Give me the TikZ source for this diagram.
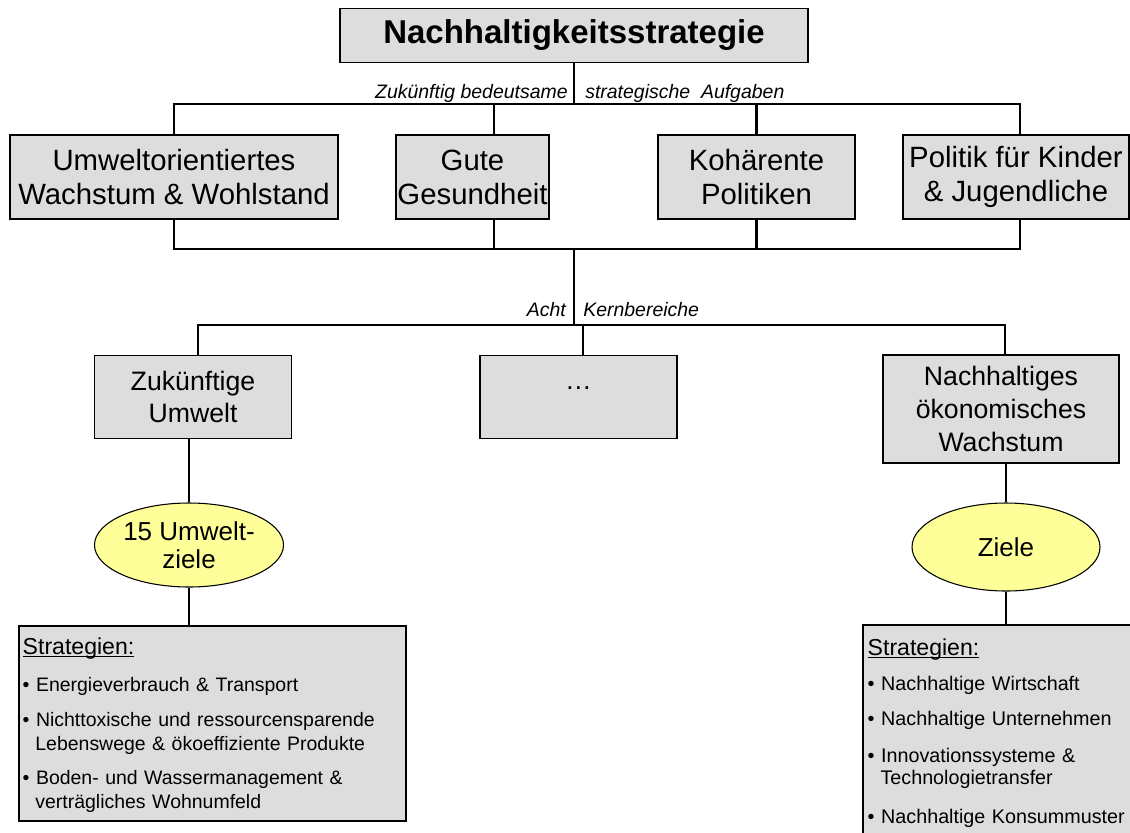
\documentclass[tikz,border=0pt]{standalone}
\usepackage{fontspec}
\setmainfont{Liberation Sans}
\usetikzlibrary{shapes.geometric}
\definecolor{boxgray}{HTML}{DDDDDD}
\definecolor{goalyellow}{HTML}{FFFF99}
\newcommand\myul[1]{\setbox0\hbox{#1}\rlap{\rule[-1.8pt]{\wd0}{0.9pt}}\box0}
\begin{document}
\begin{tikzpicture}[x=0.75pt,y=-0.75pt,
  box/.style={draw=black, line width=0.8pt, fill=boxgray, inner sep=0pt, align=center},
  goal/.style={ellipse, draw=black, line width=0.8pt, fill=goalyellow, inner sep=0pt, align=center},
  conn/.style={draw=black, line width=1.9pt},
  lbl/.style={font=\fontsize{14.6}{17}\selectfont\itshape, inner sep=0pt},
  rowtwo/.style={box, font=\fontsize{22}{25.5}\selectfont, minimum height=63pt},
  rowthree/.style={box, font=\fontsize{20}{24.5}\selectfont},
  goaltext/.style={goal, font=\fontsize{19.5}{21}\selectfont},
  stxt/.style={inner sep=0pt, align=left, anchor=north west}]
\useasboundingbox (0,0) rectangle (1130,832);
\clip (0,0) rectangle (1130,832);

% nodes
\node[box, font=\fontsize{24.75}{28}\selectfont\bfseries, minimum width=351pt, minimum height=40.5pt] (top) at (574,35.5) {Nachhaltigkeitsstrategie};

\node[rowtwo, minimum width=246pt] (r1) at (174,177) {Umweltorientiertes\\Wachstum \& Wohlstand};
\node[rowtwo, minimum width=114.75pt] (r2) at (472.5,177) {Gute\\Gesundheit};
\node[rowtwo, minimum width=147.75pt] (r3) at (756.5,177) {Kohärente\\Politiken};
\node[rowtwo, minimum width=169.5pt] (r4) at (1016,177) {Politik für Kinder\\\& Jugendliche};

\node[lbl, anchor=east] (l1a) at (568,93) {Zukünftig bedeutsame};
\node[lbl, anchor=west] (l1b) at (585,93) {strategische\ \ Aufgaben};
\node[lbl, anchor=east] (l2a) at (566,310) {Acht};
\node[lbl, anchor=west] (l2b) at (583,310) {Kernbereiche};

\node[rowthree, minimum width=147.75pt, minimum height=62.25pt] (b5) at (193,397) {Zukünftige\\Umwelt};
\node[rowthree, minimum width=147.75pt, minimum height=62.25pt] (b6) at (578.5,397) {\raisebox{6pt}[0pt][0pt]{…}};
\node[rowthree, minimum width=177pt, minimum height=81pt] (b7) at (1001,409) {Nachhaltiges\\ökonomisches\\Wachstum};

\node[goaltext, minimum width=141.75pt, minimum height=63pt] (e1) at (189,545) {15 Umwelt-\\ziele};
\node[goaltext, minimum width=141pt, minimum height=66pt] (e2) at (1006,547) {Ziele};

\node[box, minimum width=290.25pt, minimum height=146.25pt] (s1) at (212.5,723.5) {};
\node[box, minimum width=215.25pt, minimum height=168.75pt] (s2) at (1006.5,737.5) {};

\node[stxt, text width=282pt, font=\fontsize{14.6}{18}\selectfont] (s1t) at ([xshift=3pt,yshift=-9.4pt]s1.north west) {%
\parindent=0pt{\fontsize{17.3}{20}\selectfont\myul{Strategien:}\par}\vspace{9.4pt}
\hangindent=0.65em\hangafter=1 \textbullet\ Energieverbrauch \& Transport\par\vspace{8.2pt}
\hangindent=0.65em\hangafter=1 \textbullet\ Nichttoxische und ressourcensparende\newline Lebenswege \& ökoeffiziente Produkte\par\vspace{7.6pt}
\hangindent=0.65em\hangafter=1 \textbullet\ Boden- und Wassermanagement \&\newline verträgliches Wohnumfeld\par};

\node[stxt, text width=260pt, font=\fontsize{14.8}{16.5}\selectfont] (s2t) at ([xshift=3.75pt,yshift=-10.5pt]s2.north west) {%
\parindent=0pt{\fontsize{17.3}{20}\selectfont\myul{Strategien:}\par}\vspace{10pt}
\hangindent=0.65em\hangafter=1 \textbullet\ Nachhaltige Wirtschaft\par\vspace{9.8pt}
\hangindent=0.65em\hangafter=1 \textbullet\ Nachhaltige Unternehmen\par\vspace{11pt}
\hangindent=0.65em\hangafter=1 \textbullet\ Innovationssysteme \&\newline Technologietransfer\par\vspace{12.5pt}
\hangindent=0.65em\hangafter=1 \textbullet\ Nachhaltige Konsummuster\par};

% junction coordinates
\coordinate (j1) at (574,104);
\coordinate (j2) at (574,249);
\coordinate (j3) at (574,325);
\coordinate (r2top) at ([xshift=16.1pt]r2.north);
\coordinate (r2bot) at ([xshift=16.1pt]r2.south);
\coordinate (r4top) at ([xshift=3pt]r4.north);
\coordinate (r4bot) at ([xshift=3pt]r4.south);
\coordinate (b5top) at ([xshift=3.75pt]b5.north);
\coordinate (b6top) at ([xshift=3.4pt]b6.north);
\coordinate (b7top) at ([xshift=3pt]b7.north);

% connectors
\draw[conn] (top.south) -- (j1);
\draw[conn] (r1.north) |- (j1) -| (r4top);
\draw[conn] (r2top) -- (r2top |- j1);
\draw[conn] (r3.north) -- (r3.north |- j1);

\draw[conn] (r1.south) |- (j2) -| (r4bot);
\draw[conn] (r2bot) -- (r2bot |- j2);
\draw[conn] (r3.south) -- (r3.south |- j2);
\draw[conn] (j2) -- (j3);

\draw[conn] (b5top) |- (j3) -| (b7top);
\draw[conn] (b6top) -- (b6top |- j3);

\draw[conn] (b5.south -| e1.north) -- (e1.north);
\draw[conn] (e1.south) -- (e1.south |- s1.north);
\draw[conn] (b7.south -| e2.north) -- (e2.north);
\draw[conn] (e2.south) -- (e2.south |- s2.north);
\end{tikzpicture}
\end{document}
